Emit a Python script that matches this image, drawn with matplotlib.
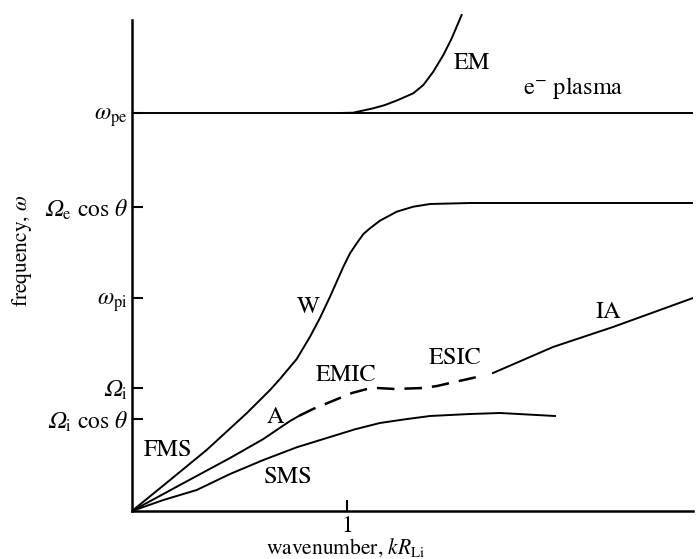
import matplotlib.pyplot as plt

plt.rcParams['font.family'] = 'STIXGeneral'
plt.rcParams['mathtext.fontset'] = 'stix'

# W / FMS branch
w_x = [0, 0.177, 0.347, 0.533, 0.642, 0.688, 0.766, 0.828, 0.874, 0.921, 0.952, 0.983, 1.014,
       1.045, 1.076, 1.107, 1.153, 1.231, 1.308, 1.386, 1.572, 2.609]
w_y = [0, 0.31, 0.61, 0.977, 1.21, 1.32, 1.52, 1.743, 1.93, 2.143, 2.293, 2.443, 2.577,
       2.677, 2.77, 2.827, 2.903, 2.993, 3.043, 3.07, 3.08, 3.08]

# Alfven branch (solid), then EMIC/ESIC (dashed), then ion acoustic
a_x = [0, 0.223, 0.456, 0.611, 0.735, 0.78]
a_y = [0, 0.26, 0.53, 0.72, 0.90, 0.955]
ic_x = [0.78, 0.842, 0.944, 1.023, 1.093, 1.14, 1.223, 1.353, 1.419, 1.479, 1.605]
ic_y = [0.955, 1.02, 1.11, 1.18, 1.22, 1.23, 1.22, 1.23, 1.25, 1.28, 1.34]
ia_x = [1.679, 1.958, 2.237, 2.609]
ia_y = [1.38, 1.64, 1.84, 2.13]

# slow magnetosonic
sms_x = [0, 0.146, 0.301, 0.456, 0.611, 0.766, 0.921, 1.037, 1.153, 1.27, 1.386, 1.572, 1.712, 1.967]
sms_y = [0, 0.11, 0.21, 0.37, 0.51, 0.637, 0.74, 0.817, 0.88, 0.917, 0.95, 0.97, 0.98, 0.95]

# EM branch and electron plasma line
em_x = [0.967, 1.029, 1.122, 1.177, 1.237, 1.308, 1.355, 1.401, 1.448, 1.487, 1.533]
em_y = [3.98, 3.983, 4.027, 4.06, 4.11, 4.177, 4.26, 4.393, 4.56, 4.727, 4.96]
pe_x = [0, 2.609]
pe_y = [3.98, 3.98]

ytick_vals = [0.92, 1.23, 2.13, 3.04, 3.98]
ytick_labels = ['$\U0001D6FA_{\\rm i}\\ \\cos\\,\\theta$', '$\U0001D6FA_{\\rm i}$',
                r'$\omega_{\rm pi}$', '$\U0001D6FA_{\\rm e}\\ \\cos\\,\\theta$', r'$\omega_{\rm pe}$']

labels = ['EM', r'e$^{-}$ plasma', 'W', 'EMIC', 'ESIC', 'IA', 'A', 'FMS', 'SMS']
label_x = [1.581, 2.051, 0.819, 0.995, 1.502, 2.214, 0.665, 0.167, 0.726]
label_y = [4.48, 4.23, 2.04, 1.36, 1.53, 1.99, 0.94, 0.61, 0.34]

fig = plt.figure(figsize=(6.99, 5.59), dpi=100)
ax = fig.add_axes([132 / 699, 48 / 559, 561 / 699, 491 / 559])

lw = 1.4
ax.plot(w_x, w_y, color='black', lw=lw)
ax.plot(a_x, a_y, color='black', lw=lw)
ax.plot(ic_x, ic_y, color='black', lw=1.8, ls=(0, (7, 4)))
ax.plot(ia_x, ia_y, color='black', lw=lw)
ax.plot(sms_x, sms_y, color='black', lw=lw)
ax.plot(em_x, em_y, color='black', lw=lw, clip_on=False)
ax.plot(pe_x, pe_y, color='black', lw=lw)

for t, x, y in zip(labels, label_x, label_y):
    ax.text(x, y, t, fontsize=17.5, ha='center', va='center')

ax.set_xlim(0, 2.609)
ax.set_ylim(0, 4.91)
ax.spines['top'].set_visible(False)
ax.spines['right'].set_visible(False)
ax.spines['left'].set_linewidth(1.8)
ax.spines['bottom'].set_linewidth(1.8)

ax.set_xticks([1])
ax.set_xticklabels(['1'])
ax.set_yticks(ytick_vals)
ax.set_yticklabels(ytick_labels)
ax.tick_params(direction='in', length=8, width=1.5, labelsize=17, pad=3)

ax.set_xlabel(r'wavenumber, $kR_{\rm Li}$', fontsize=15.5)
ax.xaxis.set_label_coords(0.381, -0.052)
ax.set_ylabel(r'frequency, $\omega$', fontsize=15.5)
ax.yaxis.set_label_coords(-0.175, 0.53)

fig.savefig('out.png', dpi=100)
